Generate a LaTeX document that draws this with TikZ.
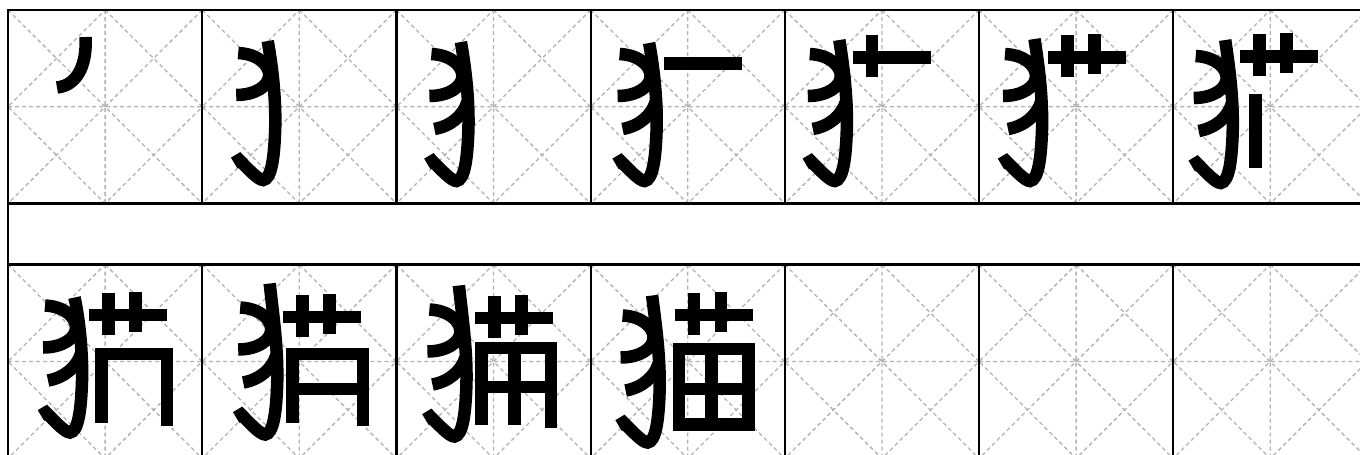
\documentclass[tikz,border=0pt]{standalone}

\newcommand{\catleft}[3]{%
  \begin{scope}[shift={(#1,#2)}]
    \draw[brush] (-29.5,5) .. controls (-9.5,6) and (1.5,17) .. (1.5,27) .. controls (1.5,38) and (-12.5,47) .. (-31.5,47);
    \draw[brush] (0,-#3) .. controls (3,10) and (8.5,45) .. (7.5,81) .. controls (6.5,111) and (3.5,131) .. (-4.5,132) .. controls (-9.5,132) and (-19.5,121) .. (-28.5,112) -- (-33.5,115);
  \end{scope}}

\begin{document}
\begin{tikzpicture}[x=0.01cm,y=-0.01cm]
    \tikzstyle{guide}=[draw=gray!60,line width=0.013cm,dash pattern=on 0.04cm off 0.03cm]
    \tikzstyle{frame}=[draw=black,line width=0.022cm]
    \tikzstyle{brush}=[draw=black,line width=0.125cm]

    \useasboundingbox (0,0) rectangle (1360,454);
    \clip (0,0) rectangle (1360,454);

    \foreach \ytop/\hh in {10/193.5, 264.5/194}
      \foreach \k in {0,...,6} {
        \begin{scope}[shift={(8+194.2*\k,\ytop)}]
          \draw[guide] (0,0) -- (194.2,\hh) (194.2,0) -- (0,\hh)
                       (97.1,0) -- (97.1,\hh) (0,\hh/2) -- (194.2,\hh/2)
                       (97.1,0) -- (194.2,\hh/2) -- (97.1,\hh) -- (0,\hh/2) -- cycle;
        \end{scope}
      }

    \draw[frame] (8,10) rectangle (1367.4,203.5);
    \draw[frame] (8,264.5) rectangle (1367.4,458.5);
    \draw[frame] (8,203.5) -- (8,264.5);
    \foreach \k in {1,...,6} {
      \draw[frame] (8+194.2*\k,10) -- (8+194.2*\k,203.5);
      \draw[frame] (8+194.2*\k,264.5) -- (8+194.2*\k,458.5);
    }

    \foreach \cx/\ry/\ns/\bx/\by/\tp/\hx/\hy/\gl/\gt/\gr/\gb in {
        0/10/1/0/0/0/0/0/0/0/0/0,
        1/10/2/65.5/38/7/0/0/0/0/0/0,
        2/10/3/64.5/39/7/0/0/0/0/0/0,
        3/10/4/58.5/39/6/73/47/0/0/0/0,
        4/10/5/54.5/39/9/68/41/0/0/0/0,
        5/10/6/55.5/39/10/69/41/0/0/0/0,
        6/10/7/52/41/11/67/40/76/84/0/161,
        0/264.5/8/66.5/36/3/81/44/87/83/165/161,
        1/264.5/9/67.5/38/19/81/46/84/83/167/161,
        2/264.5/10/62.5/40/19/79/47/79/77/161/163,
        3/264.5/11/61.5/46/15/84/44/82/78/164/166} {
      \begin{scope}[shift={(8+194.2*\cx,\ry)}]
        \ifnum\ns=1
          \draw[brush] (77.5,27) .. controls (79,50) and (72,75) .. (49,77.5);
        \else
          \catleft{\bx}{\by}{\tp}
          \ifnum\ns>2
            \draw[brush, shift={(\bx,\by)}] (6.5,53) .. controls (2.5,66) and (-9.5,77) .. (-26.5,80);
          \fi
        \fi
        \ifnum\ns>3
          \begin{scope}[shift={(\hx,\hy)}]
            \fill (0,0) rectangle (78,12.5);
            \ifnum\ns>4 \fill (13,-16) rectangle (25.5,26); \fi
            \ifnum\ns>5 \fill (40,-17) rectangle (52.5,23); \fi
          \end{scope}
        \fi
        \ifnum\ns>6 \fill (\gl,\gt) rectangle (\gl+12.5,\gb-3); \fi
        \ifnum\ns>7
          \fill (\gl,\gt) rectangle (\gr,\gt+12.5);
          \fill (\gr-12.5,\gt) rectangle (\gr,\gb);
        \fi
        \ifnum\ns>8 \fill (\gl,{(\gt+\gb)/2-4}) rectangle (\gr,{(\gt+\gb)/2+8.5}); \fi
        \ifnum\ns>9 \fill ({(\gl+\gr)/2-8.25},\gt) rectangle ({(\gl+\gr)/2+4.25},\gb-3); \fi
        \ifnum\ns>10 \fill (\gl,\gb-12.5) rectangle (\gr,\gb); \fi
      \end{scope}
    }
\end{tikzpicture}
\end{document}
